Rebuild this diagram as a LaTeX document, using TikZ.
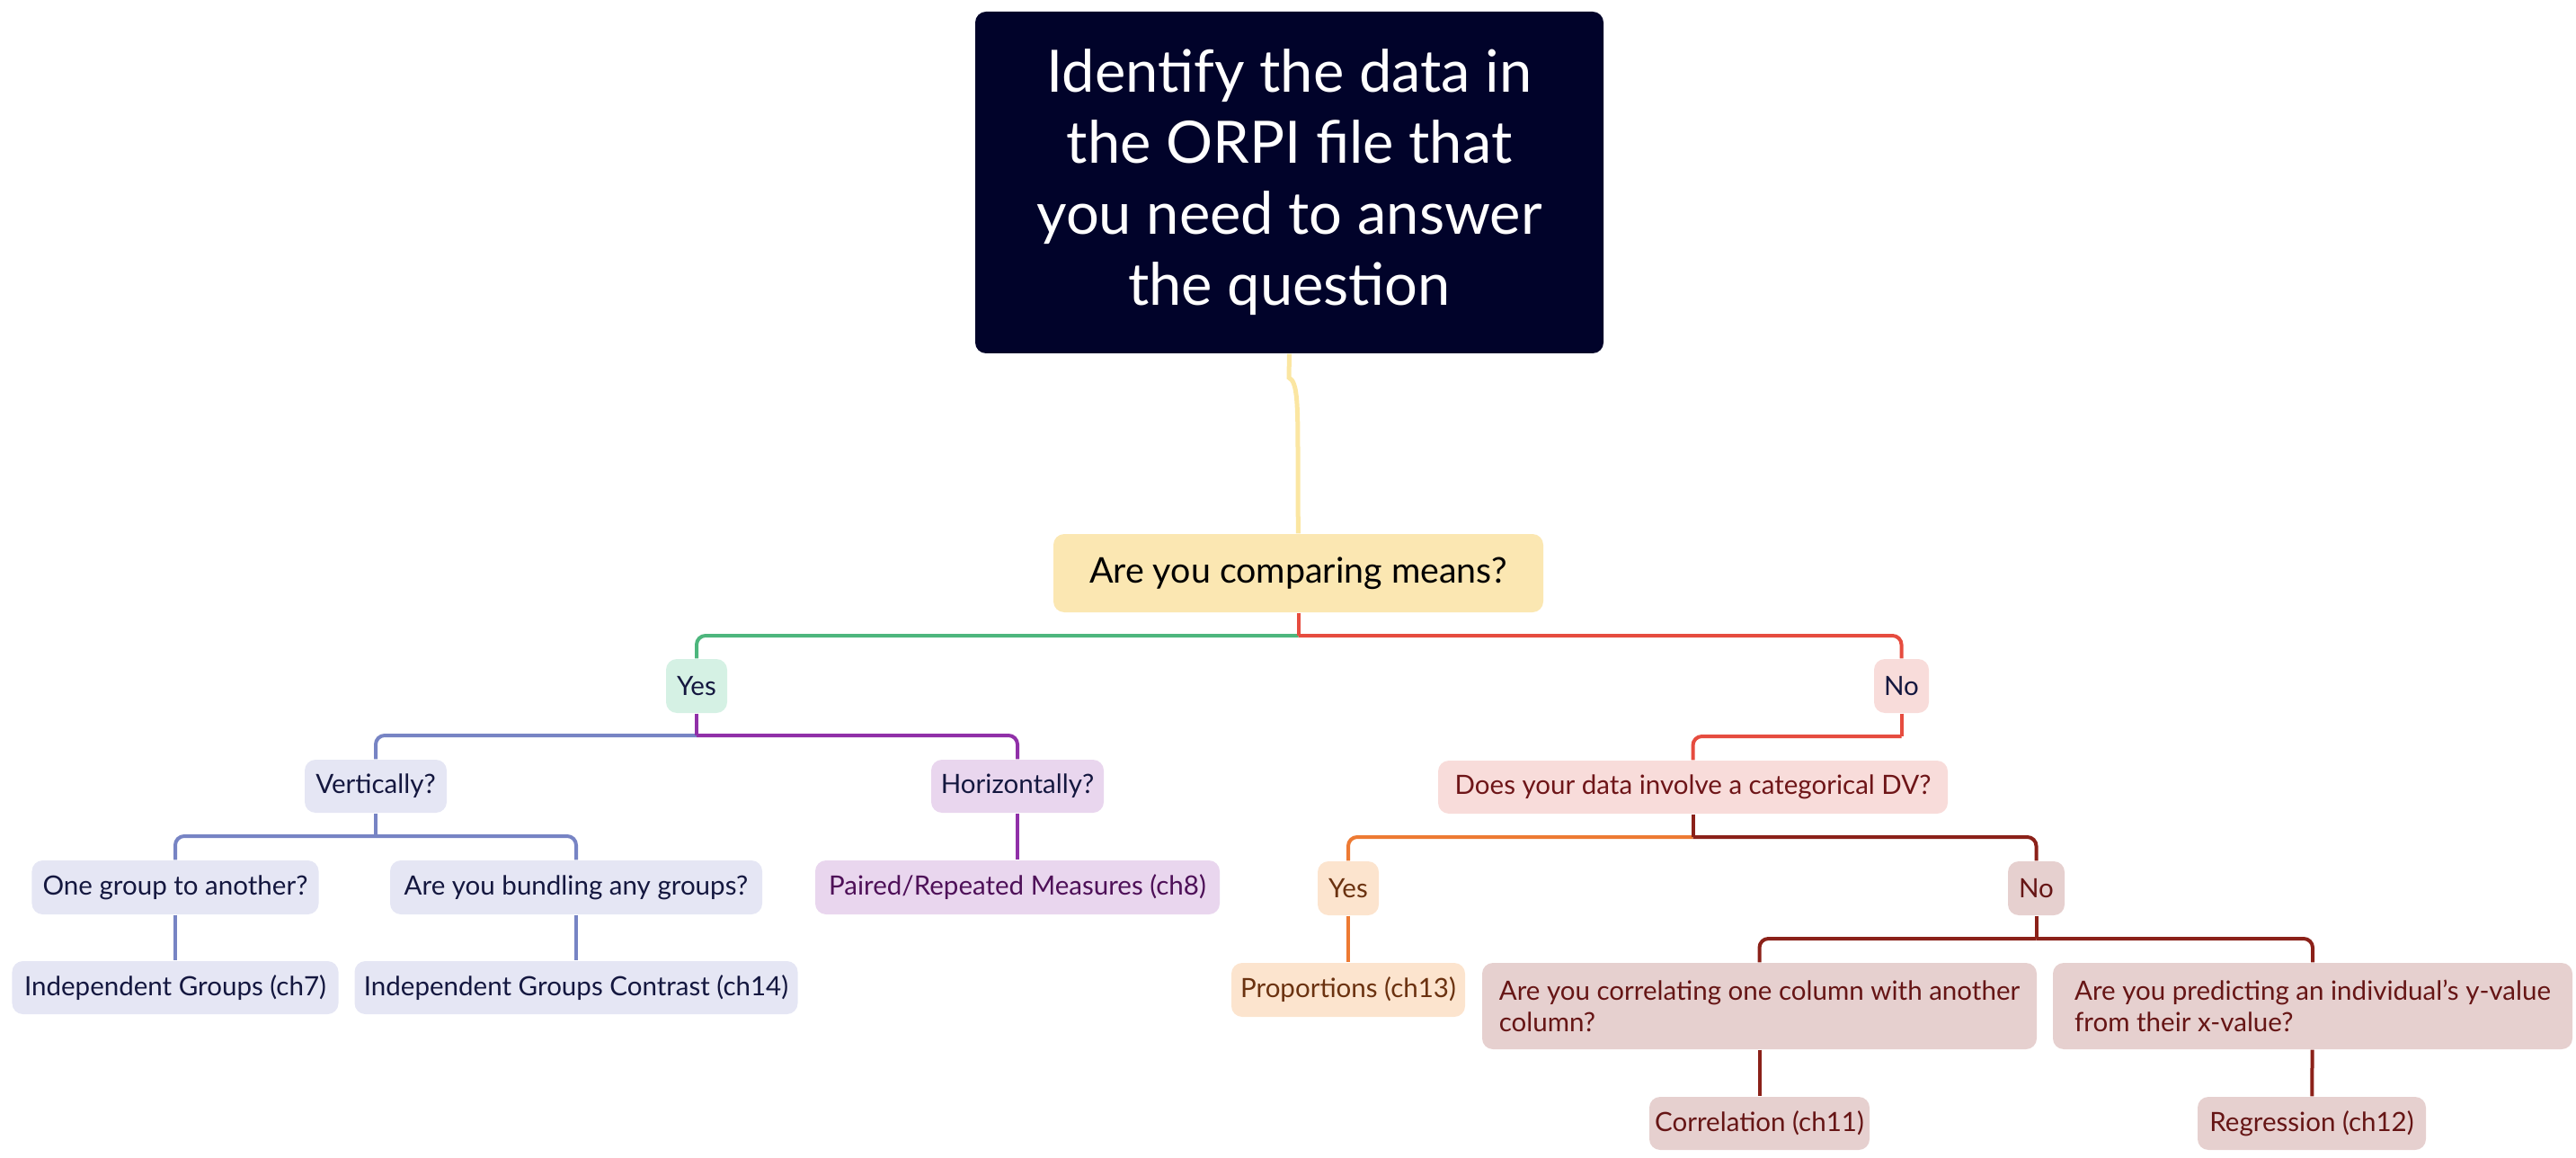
\documentclass[tikz,border=0pt]{standalone}
\usepackage{fontspec}
\setmainfont{Lato}
\usepackage{tikz}
\usetikzlibrary{arrows.meta}

\definecolor{navy}{HTML}{01032A}
\definecolor{ink}{HTML}{14173F}
\definecolor{yfill}{HTML}{FBE7B2}
\definecolor{yline}{HTML}{FBE6A2}
\definecolor{gline}{HTML}{4DB67D}
\definecolor{gfill}{HTML}{D5F1E4}
\definecolor{rline}{HTML}{E64C3F}
\definecolor{rfill}{HTML}{F8DCDA}
\definecolor{rtext}{HTML}{6E1518}
\definecolor{bline}{HTML}{7784C4}
\definecolor{bfill}{HTML}{E5E6F4}
\definecolor{pline}{HTML}{9030A8}
\definecolor{pfill}{HTML}{E9D6EE}
\definecolor{ptext}{HTML}{4E1058}
\definecolor{oline}{HTML}{ED7A33}
\definecolor{ofill}{HTML}{FCE4CE}
\definecolor{otext}{HTML}{6B3210}
\definecolor{dline}{HTML}{8B2119}
\definecolor{dfill}{HTML}{E6D0CF}
\definecolor{dtext}{HTML}{661515}

\begin{document}
\begin{tikzpicture}
\useasboundingbox (0,0) rectangle (28.66,-12.88);
\begin{scope}[every node/.style={rounded corners=0.12cm, inner sep=0, align=center,
              font=\fontsize{8.4}{10}\selectfont}]
    \node[fill=navy, text=white, minimum width=6.99cm, minimum height=3.8cm,
          font=\fontsize{18.5}{22.5}\selectfont] (Q) at (14.345,-2.03)
          {Identify the data in\\the ORPI file that\\you need to answer\\the question};
    \node[fill=yfill, text=black, minimum width=5.45cm, minimum height=0.87cm,
          font=\fontsize{11.2}{13}\selectfont] (M) at (14.445,-6.375) {Are you comparing means?};

    \node[fill=gfill, text=ink, minimum width=0.68cm, minimum height=0.6cm] (Y) at (7.75,-7.63) {Yes};
    \node[fill=rfill, text=ink, minimum width=0.61cm, minimum height=0.6cm] (N) at (21.155,-7.63) {No};

    \node[fill=bfill, text=ink, minimum width=1.58cm, minimum height=0.59cm] (V) at (4.18,-8.745) {Vertically?};
    \node[fill=pfill, text=ink, minimum width=1.92cm, minimum height=0.59cm] (H) at (11.32,-8.745) {Horizontally?};
    \node[fill=rfill, text=rtext, minimum width=5.67cm, minimum height=0.59cm] (D) at (18.835,-8.755) {Does your data involve a categorical DV?};

    \node[fill=bfill, text=ink, minimum width=3.19cm, minimum height=0.6cm] (O) at (1.95,-9.87) {One group to another?};
    \node[fill=bfill, text=ink, minimum width=4.14cm, minimum height=0.6cm] (B) at (6.41,-9.87) {Are you bundling any groups?};
    \node[fill=pfill, text=ptext, minimum width=4.5cm, minimum height=0.6cm] (P) at (11.32,-9.87) {Paired/Repeated Measures (ch8)};
    \node[fill=ofill, text=otext, minimum width=0.68cm, minimum height=0.6cm] (y) at (15.0,-9.88) {Yes};
    \node[fill=dfill, text=dtext, minimum width=0.63cm, minimum height=0.6cm] (n) at (22.655,-9.88) {No};

    \node[fill=bfill, text=ink, minimum width=3.63cm, minimum height=0.59cm] (I) at (1.95,-10.985) {Independent Groups (ch7)};
    \node[fill=bfill, text=ink, minimum width=4.93cm, minimum height=0.59cm] (C) at (6.41,-10.985) {Independent Groups Contrast (ch14)};
    \node[fill=ofill, text=otext, minimum width=2.6cm, minimum height=0.6cm] (p) at (15.0,-11.01) {Proportions (ch13)};
    \node[fill=dfill, text=dtext, minimum width=6.17cm, minimum height=0.96cm, align=left] (c) at (19.575,-11.19)
          {Are you correlating one column with another\\column?};
    \node[fill=dfill, text=dtext, minimum width=5.78cm, minimum height=0.96cm, align=left] (r) at (25.73,-11.19)
          {Are you predicting an individual's y-value\\from their x-value?};

    \node[fill=dfill, text=dtext, minimum width=2.45cm, minimum height=0.59cm] (k) at (19.575,-12.495) {Correlation (ch11)};
    \node[fill=dfill, text=dtext, minimum width=2.54cm, minimum height=0.59cm] (g) at (25.72,-12.495) {Regression (ch12)};
\end{scope}

\coordinate (m1) at (14.445,-7.07);
\coordinate (y1) at (7.75,-8.18);
\coordinate (v1) at (4.18,-9.30);
\coordinate (n1) at (21.155,-8.19);
\coordinate (d1) at (18.835,-9.31);
\coordinate (b1) at (22.655,-10.44);

\begin{scope}[line width=0.04cm]
    \draw[yline, line width=0.05cm] (Q.south) -- (14.34,-4.2) .. controls (14.44,-4.25) and (14.44,-4.5) .. (14.44,-5.2) -- (M);

    \draw[gline, rounded corners=0.1cm] (m1) -| (Y);
    \draw[rline, rounded corners=0.1cm] (m1) -| (N);
    \draw[rline] (M) -- (m1);

    \draw[bline, rounded corners=0.1cm] (y1) -| (V);
    \draw[pline, rounded corners=0.1cm] (y1) -| (H);
    \draw[pline] (Y) -- (y1);

    \draw[bline, rounded corners=0.1cm] (v1) -| (O);
    \draw[bline, rounded corners=0.1cm] (v1) -| (B);
    \draw[bline] (V) -- (v1);
    \draw[bline] (O) -- (I);
    \draw[bline] (B) -- (C);
    \draw[pline] (H) -- (P);

    \draw[rline, rounded corners=0.1cm] (n1) -| (D);
    \draw[rline] (N) -- (n1);

    \draw[oline, rounded corners=0.1cm] (d1) -| (y);
    \draw[dline, rounded corners=0.1cm] (d1) -| (n);
    \draw[dline] (D) -- (d1);
    \draw[oline] (y) -- (p);

    \draw[dline, rounded corners=0.1cm] (b1) -| (c);
    \draw[dline, rounded corners=0.1cm] (b1) -| (r);
    \draw[dline] (n) -- (b1);
    \draw[dline] (c) -- (k);
    \draw[dline] (r) -- (g);
\end{scope}
\end{tikzpicture}
\end{document}
